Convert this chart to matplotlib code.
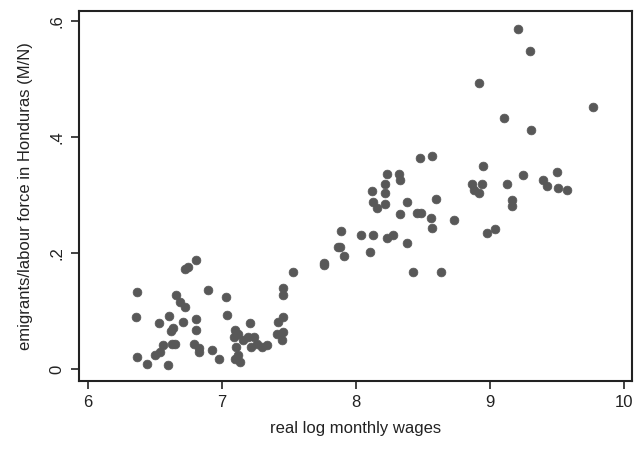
import numpy as np
import matplotlib
matplotlib.use("Agg")
import matplotlib.pyplot as plt

# ── Data ──────────────────────────────────────────────────────────────────────
wages = [
    6.37, 6.36, 6.37, 6.44, 6.53, 6.50, 6.54, 6.56, 6.60, 6.61,
    6.62, 6.64, 6.63, 6.65, 6.66, 6.69, 6.73, 6.71, 6.73, 6.75,
    6.81, 6.81, 6.81, 6.79, 6.83, 6.83, 6.90, 6.93, 6.98, 7.03,
    7.04, 7.21, 7.10, 7.09, 7.12, 7.11, 7.10, 7.14, 7.12, 7.16,
    7.20, 7.24, 7.22, 7.26, 7.30, 7.34, 7.41, 7.45, 7.46, 7.42,
    7.46, 7.46, 7.46, 7.53, 7.76, 7.87,
    9.21, 9.30, 8.92, 9.77, 9.11, 9.31, 8.48, 8.57, 8.95, 8.23,
    8.32, 8.33, 9.25, 9.50, 8.22, 8.87, 8.94, 8.88, 8.92, 9.13,
    9.40, 9.43, 9.51, 9.58, 8.12, 8.22, 8.13, 8.16, 8.22, 8.60,
    8.38, 9.17, 9.17, 8.33, 8.46, 8.49, 8.56, 8.57, 8.73, 8.98,
    9.04, 7.89, 8.04, 8.13, 8.23, 8.28, 8.38, 7.88, 7.91, 8.11,
    7.76, 8.43, 8.64,
]
emig_ratio = [
    0.133, 0.089, 0.021, 0.008, 0.079, 0.024, 0.030, 0.041, 0.007, 0.091,
    0.066, 0.070, 0.043, 0.043, 0.127, 0.116, 0.107, 0.081, 0.172, 0.176,
    0.188, 0.087, 0.067, 0.044, 0.036, 0.030, 0.136, 0.033, 0.017, 0.125,
    0.093, 0.080, 0.067, 0.056, 0.061, 0.038, 0.018, 0.013, 0.024, 0.050,
    0.056, 0.056, 0.038, 0.044, 0.038, 0.041, 0.061, 0.050, 0.064, 0.081,
    0.089, 0.139, 0.127, 0.167, 0.182, 0.211,
    0.585, 0.547, 0.492, 0.451, 0.433, 0.412, 0.363, 0.367, 0.350, 0.336,
    0.336, 0.326, 0.334, 0.339, 0.319, 0.319, 0.319, 0.308, 0.304, 0.319,
    0.326, 0.316, 0.312, 0.308, 0.307, 0.303, 0.288, 0.277, 0.285, 0.293,
    0.288, 0.292, 0.281, 0.267, 0.269, 0.268, 0.260, 0.243, 0.257, 0.235,
    0.241, 0.237, 0.231, 0.231, 0.225, 0.231, 0.217, 0.211, 0.195, 0.201,
    0.180, 0.167, 0.167,
]

x_ticks = [6, 7, 8, 9, 10]
y_ticks = [0, 0.2, 0.4, 0.6]
y_tick_labels = ["0", ".2", ".4", ".6"]

# ── Plot ──────────────────────────────────────────────────────────────────────
plt.rcParams['font.family'] = ['Liberation Sans', 'DejaVu Sans']

fig = plt.figure(figsize=(6.36, 4.49), dpi=100)
fig.patch.set_facecolor("#ffffff")
ax = fig.add_axes([0.1237, 0.152, 0.8705, 0.824])

ax.scatter(wages, emig_ratio, s=40, marker='o', color="#585858",
           edgecolors="#585858", linewidths=0.5, zorder=3)

ax.set_xlim(5.933, 10.064)
ax.set_ylim(-0.020, 0.617)
ax.set_xticks(x_ticks)
ax.set_yticks(y_ticks)
ax.set_yticklabels(y_tick_labels, rotation=90, va='center')

ax.tick_params(direction='out', length=6, width=1.2, colors="#222222",
               labelsize=12, pad=4)
for spine in ax.spines.values():
    spine.set_edgecolor("#222222")
    spine.set_linewidth(1.5)

ax.set_xlabel('real log monthly wages', fontsize=12, color="#222222", labelpad=8)
ax.set_ylabel('emigrants/labour force in Honduras (M/N)', fontsize=12,
              color="#222222", labelpad=12)

fig.savefig('out.png', dpi=100, facecolor="#ffffff")
